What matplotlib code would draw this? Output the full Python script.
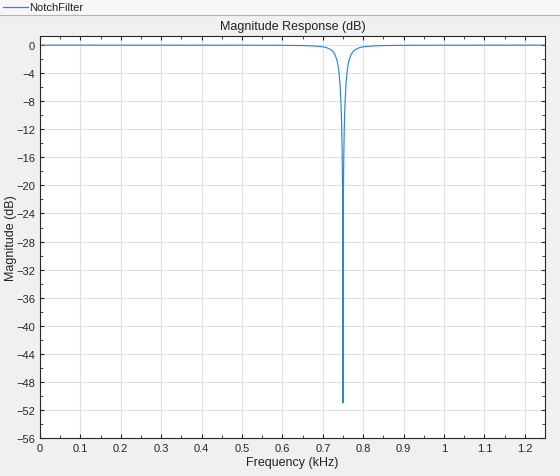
import matplotlib
matplotlib.use("Agg")
import matplotlib.pyplot as plt
from matplotlib.ticker import MultipleLocator
from matplotlib.lines import Line2D

plt.rcParams["font.family"] = ["Liberation Sans", "DejaVu Sans"]

# Magnitude response (kHz, dB)
freq_khz = [0.0, 0.30, 0.50, 0.60, 0.65, 0.68, 0.70, 0.71, 0.72, 0.725,
            0.73, 0.735, 0.7375, 0.74, 0.7425, 0.745, 0.746, 0.747, 0.748,
            0.7485, 0.749, 0.7495, 0.74975, 0.75,
            0.75025, 0.7505, 0.751, 0.7515, 0.752, 0.753, 0.754, 0.755, 0.7575,
            0.76, 0.7625, 0.765, 0.77, 0.775, 0.78, 0.79, 0.80, 0.82, 0.85,
            0.90, 1.00, 1.10, 1.25]
mag_db = [-0.004, -0.008, -0.010, -0.028, -0.062, -0.126, -0.243, -0.374, -0.644, -0.90,
          -1.335, -2.15, -2.84, -3.87, -5.51, -8.30, -10.0, -12.3, -15.7,
          -18.1, -21.6, -27.6, -33.6, -51.0,
          -33.6, -27.6, -21.6, -18.1, -15.7, -12.3, -10.0, -8.30, -5.51,
          -3.87, -2.84, -2.15, -1.335, -0.90, -0.644, -0.374, -0.243, -0.126, -0.062,
          -0.028, -0.010, -0.008, -0.004]

x_ticks = [0, 0.1, 0.2, 0.3, 0.4, 0.5, 0.6, 0.7, 0.8, 0.9, 1, 1.1, 1.2]
y_ticks = list(range(0, -57, -4))

line_color = "#2f86d0"

fig = plt.figure(figsize=(5.6, 4.77), dpi=100)
fig.patch.set_facecolor("#f0f0f0")

# legend strip across the top
strip = fig.add_axes([0, 1 - 16 / 477, 1, 16 / 477])
strip.set_facecolor("#f7f7f7")
strip.set_xlim(0, 560)
strip.set_ylim(0, 16)
strip.set_xticks([])
strip.set_yticks([])
for s in ["top", "left", "right"]:
    strip.spines[s].set_visible(False)
strip.spines["bottom"].set_color("#b4b4b4")
strip.add_line(Line2D([3, 28], [8, 8], color=line_color, lw=0.9))
strip.text(29, 8, "NotchFilter", va="center", ha="left", fontsize=8, color="#222222")

ax = fig.add_axes([40 / 560, 1 - 439 / 477, 505 / 560, 402 / 477])
ax.plot(freq_khz, mag_db, color=line_color, lw=0.85)

ax.set_xlim(0, 1.25)
ax.set_ylim(-56, 1.3)
ax.set_xticks(x_ticks)
ax.set_xticklabels([f"{t:g}" for t in x_ticks])
ax.set_yticks(y_ticks)
ax.xaxis.set_minor_locator(MultipleLocator(0.05))
ax.yaxis.set_minor_locator(MultipleLocator(2))
ax.tick_params(which="both", direction="in", top=True, right=True,
               labelsize=8, colors="#262626")
ax.tick_params(which="major", length=3)
ax.tick_params(which="minor", length=2)
ax.grid(True, which="major", color="#e1e1e1", lw=0.8)
ax.set_axisbelow(True)
for s in ax.spines.values():
    s.set_color("#262626")
    s.set_linewidth(0.8)

ax.set_title("Magnitude Response (dB)", fontsize=9, color="#222222", pad=5)
ax.set_xlabel("Frequency (kHz)", fontsize=9, color="#222222", labelpad=2)
fig.text(11 / 560, 0.5 * (1 - 439 / 477 + 1 - 37 / 477), "Magnitude (dB)",
         rotation=90, ha="center", va="center", fontsize=9, color="#222222")

fig.savefig("out.png", dpi=100, facecolor=fig.get_facecolor())
